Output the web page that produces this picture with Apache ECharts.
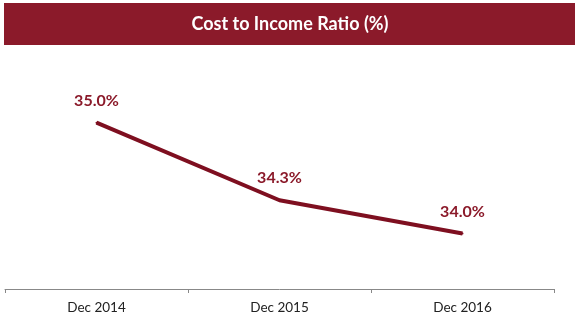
<!DOCTYPE html>
<html><head><meta charset="utf-8">
<script src="https://cdn.jsdelivr.net/npm/echarts@6/dist/echarts.min.js"></script>
<style>html,body{margin:0;padding:0;background:#fff}#c{width:580px;height:323px}</style>
</head><body><div id="c"></div>
<script>
const categories = ['Dec 2014', 'Dec 2015', 'Dec 2016'];
const ratioValues = [35.0, 34.3, 34.0];
const titleText = 'Cost to Income Ratio (%)';

const chart = echarts.init(document.getElementById('c'), null, {renderer: 'canvas'});
chart.setOption({
  animation: false,
  graphic: [
    {type: 'rect', shape: {x: 4, y: 3, width: 571, height: 42}, style: {fill: '#8B1A2A'}, z: 0},
    {type: 'text', x: 290, y: 24, style: {text: titleText, fill: '#fff', font: 'bold 18px Lato', textAlign: 'center', textVerticalAlign: 'middle'}, z: 1}
  ],
  grid: {left: 5, right: 26, top: 45, bottom: 34},
  xAxis: {
    type: 'category', data: categories, boundaryGap: true,
    axisLine: {lineStyle: {color: '#888', width: 1}},
    axisTick: {show: true, length: 4, lineStyle: {color: '#888'}},
    axisLabel: {color: '#222', fontFamily: 'Lato', fontSize: 13.5, margin: 12}
  },
  yAxis: {type: 'value', min: 33.5, max: 35.7, show: false, splitLine: {show: false}},
  series: [{
    type: 'line', data: ratioValues, symbol: 'circle', symbolSize: 2, showSymbol: true,
    itemStyle: {color: '#7E0F20'},
    lineStyle: {color: '#7E0F20', width: 4},
    label: {show: true, position: 'top', distance: 13, color: '#8B1A2A', fontFamily: 'Lato', fontWeight: 'bold', fontSize: 16,
      formatter: p => p.value.toFixed(1) + '%'}
  }]
});
</script></body></html>
